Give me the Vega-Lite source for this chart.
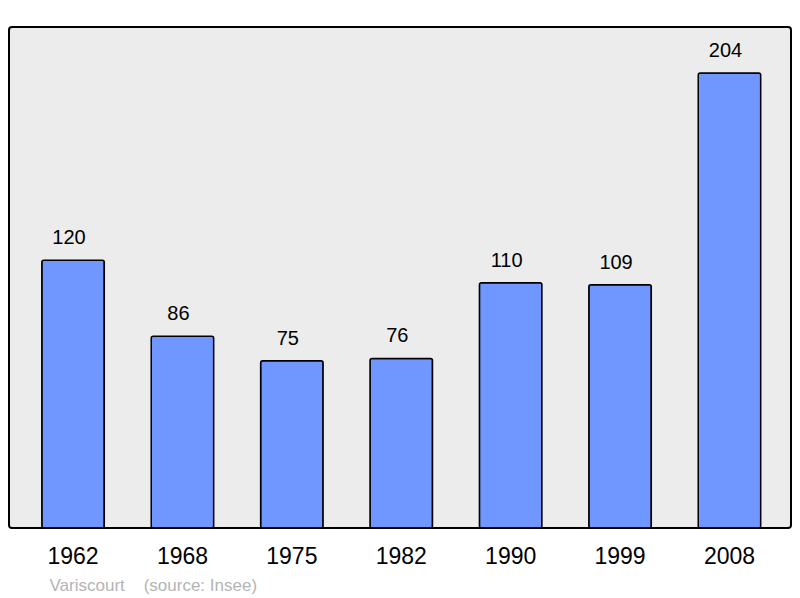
{
  "$schema": "https://vega.github.io/schema/vega-lite/v6.json",
  "width": 782,
  "height": 501,
  "autosize": "none",
  "padding": {"left": 9, "top": 27, "right": 9, "bottom": 70},
  "background": "white",
  "config": {
    "font": "Liberation Sans",
    "view": {"fill": "#ececec", "stroke": "black", "strokeWidth": 2, "cornerRadius": 3}
  },
  "data": {
    "values": [
      {"year": "1962", "pop": 120},
      {"year": "1968", "pop": 86},
      {"year": "1975", "pop": 75},
      {"year": "1982", "pop": 76},
      {"year": "1990", "pop": 110},
      {"year": "1999", "pop": 109},
      {"year": "2008", "pop": 204}
    ]
  },
  "encoding": {
    "x": {
      "field": "year",
      "type": "ordinal",
      "sort": null,
      "scale": {"paddingInner": 0.429, "paddingOuter": 0.2885, "align": 0.52},
      "axis": {
        "title": "Variscourt\u00a0\u00a0\u00a0\u00a0(source: Insee)",
        "titleAnchor": "start",
        "titleX": 40,
        "titleY": 62,
        "titleBaseline": "alphabetic",
        "titleColor": "#b4b4b4",
        "titleFontSize": 17,
        "titleFontWeight": "normal",
        "labelAngle": 0,
        "labelFontSize": 23,
        "labelColor": "black",
        "labelPadding": 17,
        "domain": false,
        "ticks": false
      }
    },
    "y": {
      "field": "pop",
      "type": "quantitative",
      "scale": {"domain": [0, 224.6], "nice": false},
      "axis": null
    }
  },
  "layer": [
    {
      "mark": {"type": "bar", "fill": "#7097ff", "stroke": "black", "strokeWidth": 1.5, "cornerRadius": 2}
    },
    {
      "mark": {"type": "text", "dy": -22, "dx": -4, "fontSize": 20, "color": "black", "baseline": "middle"},
      "encoding": {"text": {"field": "pop", "type": "quantitative"}}
    }
  ]
}
